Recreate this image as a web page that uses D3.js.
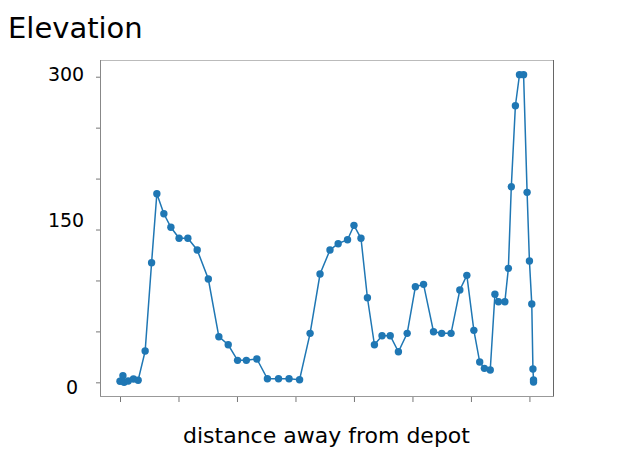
<!DOCTYPE html>
<html>
<head>
<meta charset="utf-8">
<script src="https://cdn.jsdelivr.net/npm/d3@7"></script>
<style>
    body { margin: 0; background: #fff; }
    text { font-family: "DejaVu Sans", sans-serif; }
</style>
</head>
<body>
<div id="chart"></div>
<script>
// distance along route (arbitrary units) and elevation
let distances = [0.00, 0.05, 0.07, 0.14, 0.23, 0.31, 0.43, 0.54, 0.63, 0.75,
                 0.87, 1.01, 1.16, 1.32, 1.51, 1.69, 1.85, 2.01, 2.16, 2.34,
                 2.52, 2.71, 2.89, 3.07, 3.25, 3.42, 3.59, 3.73, 3.89, 4.00,
                 4.12, 4.23, 4.35, 4.48, 4.62, 4.76, 4.91, 5.05, 5.19, 5.36,
                 5.50, 5.66, 5.81, 5.93, 6.05, 6.15, 6.23, 6.33, 6.41, 6.47,
                 6.58, 6.64, 6.69, 6.76, 6.83, 6.90, 6.96, 7.00, 7.04, 7.06,
                 7.07, 7.07];
let elevations = [1, 6.5, 0, 1.3, 3.2, 2, 30.7, 117.4, 185.1, 165.5,
                  152.2, 141.4, 141.4, 129.9, 101.4, 44.8, 36.9, 21.6, 21.6, 22.9,
                  3.5, 3.5, 3.5, 2.6, 48.1, 106.3, 129.9, 136.1, 140, 154.1,
                  141.4, 83, 36.9, 45.7, 45.7, 30, 48.1, 93.8, 96.2, 49.7,
                  48.1, 48.1, 90.6, 105, 51, 19.9, 13.7, 12.1, 86.4, 79.1,
                  79.1, 111.9, 192, 271.5, 302, 302, 186.5, 119.1, 76.9, 13.1,
                  2.3, 0.3];
let xTicks = [0, 1, 2, 3, 4, 5, 6, 7];
let yTicks = [0, 50, 100, 150, 200, 250, 300];
let yLabels = [0, 150, 300];

let data = distances.map((d, i) => ({dist: d, elev: elevations[i]}));

let margin = { top: 60, right: 74, bottom: 74, left: 100 };
let width = 628 - margin.left - margin.right,
    height = 471 - margin.top - margin.bottom;

let svg = d3.select("#chart").append("svg")
    .attr("width", 628)
    .attr("height", 471);

let g = svg.append("g")
    .attr("transform", "translate(" + margin.left + "," + margin.top + ")");

let x = d3.scaleLinear()
    .domain([-0.342, 7.42])
    .range([0, width]);

let y = d3.scaleLinear()
    .domain([-14.4, 316.4])
    .range([height, 0]);

// axes
let xAxis = d3.axisBottom(x)
    .tickValues(xTicks)
    .tickSize(5)
    .tickFormat("");

let yAxis = d3.axisLeft(y)
    .tickValues(yTicks)
    .tickSize(4)
    .tickPadding(16)
    .tickFormat(d => yLabels.includes(d) ? d : "");

g.append("g")
    .attr("class", "x-axis axis")
    .attr("transform", "translate(0," + height + ")")
    .call(xAxis);

g.append("g")
    .attr("class", "y-axis axis")
    .call(yAxis);

g.selectAll(".axis .domain").remove();
g.selectAll(".axis .tick line").attr("stroke", "#777");
g.selectAll(".y-axis text")
    .attr("font-size", 19)
    .attr("fill", "#000")
    .attr("text-anchor", "middle")
    .attr("x", d => d === 0 ? -28 : -34)
    .attr("dy", d => d === 0 ? "0.6em" : (d === 150 ? "-0.15em" : "0.22em"));

// frame
g.append("line").attr("x1", 0).attr("x2", width).attr("y1", 0.5).attr("y2", 0.5)
    .attr("stroke", "#bbb");
g.append("line").attr("x1", 0.5).attr("x2", 0.5).attr("y1", 0).attr("y2", height)
    .attr("stroke", "#888");
g.append("line").attr("x1", width - 0.5).attr("x2", width - 0.5).attr("y1", 0).attr("y2", height)
    .attr("stroke", "#666");
g.append("line").attr("x1", 0).attr("x2", width).attr("y1", height - 0.5).attr("y2", height - 0.5)
    .attr("stroke", "#999");

// line + markers
let line = d3.line()
    .x(d => x(d.dist))
    .y(d => y(d.elev));

g.append("path")
    .datum(data)
    .attr("fill", "none")
    .attr("stroke", "#1f77b4")
    .attr("stroke-width", 1.5)
    .attr("d", line);

g.selectAll(".dot")
    .data(data)
    .enter().append("circle")
    .attr("class", "dot")
    .attr("cx", d => x(d.dist))
    .attr("cy", d => y(d.elev))
    .attr("r", 3.7)
    .attr("fill", "#1f77b4");

// title
svg.append("text")
    .attr("x", 8)
    .attr("y", 38)
    .attr("font-size", 29)
    .text("Elevation");

// x axis title
svg.append("text")
    .attr("x", 326.5)
    .attr("y", 443)
    .attr("text-anchor", "middle")
    .attr("font-size", 22)
    .text("distance away from depot");
</script>
</body>
</html>
